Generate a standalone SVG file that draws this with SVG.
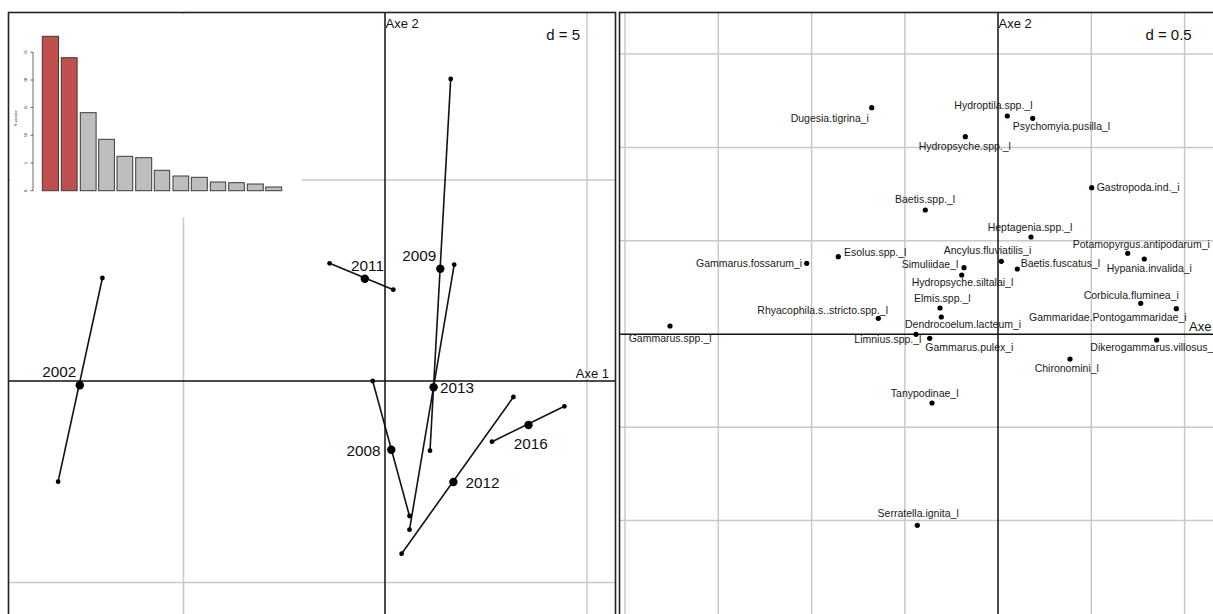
<svg xmlns="http://www.w3.org/2000/svg" width="1213" height="614" viewBox="0 0 1213 614">
<style>
text{font-family:"Liberation Sans",Arial,sans-serif;fill:#111}
.grid{stroke:#c8c8c8;stroke-width:1.5;fill:none}
.axis{stroke:#111;stroke-width:1.5;fill:none}
.frame{stroke:#222;stroke-width:1.6;fill:none}
.seg{stroke:#111;stroke-width:1.6;fill:none}
.big{fill:#000}
.sm{fill:#000}
.yr{font-size:15.3px}
.ax{font-size:13px}
.d{font-size:15px}
.lab{font-size:10.5px;fill:#1a1a1a}
.red{fill:#c0504d;stroke:#3a3a3a;stroke-width:1}
.gry{fill:#bebebe;stroke:#3a3a3a;stroke-width:1}
.tiny{font-size:3.2px}
</style>
<rect x="0" y="0" width="1213" height="614" fill="#fff"/>

<g id="left-panel">
  <g id="left-grid">
    <line class="grid" x1="183.5" y1="12" x2="183.5" y2="614"/>
    <line class="grid" x1="587" y1="12" x2="587" y2="614"/>
    <line class="grid" x1="8" y1="180" x2="615" y2="180"/>
    <line class="grid" x1="8" y1="582.5" x2="615" y2="582.5"/>
  </g>
  <g id="left-axes">
    <line class="axis" x1="385" y1="12" x2="385" y2="614"/>
    <line class="axis" x1="8" y1="381" x2="615" y2="381"/>
    <text class="ax" x="385.5" y="27.5">Axe 2</text>
    <text class="ax" x="609" y="377.5" text-anchor="end">Axe 1</text>
    <text class="d" x="580" y="39.5" text-anchor="end">d = 5</text>
  </g>

  <g id="inset-eigenvalues">
    <rect x="10" y="14" width="292" height="203.5" fill="#fff"/>
    <line x1="33" y1="52.3" x2="33" y2="190.7" stroke="#444" stroke-width="0.8"/>
    <g stroke="#444" stroke-width="0.8">
      <line x1="30.5" y1="52.3" x2="33" y2="52.3"/>
      <line x1="30.5" y1="80" x2="33" y2="80"/>
      <line x1="30.5" y1="107.5" x2="33" y2="107.5"/>
      <line x1="30.5" y1="135.3" x2="33" y2="135.3"/>
      <line x1="30.5" y1="163" x2="33" y2="163"/>
      <line x1="30.5" y1="190.7" x2="33" y2="190.7"/>
    </g>
    <g class="tiny">
      <text transform="translate(27,52.3) rotate(-90)" text-anchor="middle">25</text>
      <text transform="translate(27,80) rotate(-90)" text-anchor="middle">20</text>
      <text transform="translate(27,107.5) rotate(-90)" text-anchor="middle">15</text>
      <text transform="translate(27,135.3) rotate(-90)" text-anchor="middle">10</text>
      <text transform="translate(27,163) rotate(-90)" text-anchor="middle">5</text>
      <text transform="translate(27,190.7) rotate(-90)" text-anchor="middle">0</text>
      <text transform="translate(17,118) rotate(-90)" text-anchor="middle">% variance</text>
    </g>
    <rect class="red" x="42.3" y="36.3" width="16.2" height="154.4"/>
    <rect class="red" x="61.3" y="57.7" width="15.8" height="133"/>
    <rect class="gry" x="80.3" y="112.7" width="15.8" height="78"/>
    <rect class="gry" x="98.7" y="139.3" width="15.7" height="51.4"/>
    <rect class="gry" x="117" y="156.3" width="15.7" height="34.4"/>
    <rect class="gry" x="135.7" y="157.7" width="16" height="33"/>
    <rect class="gry" x="154.3" y="170.3" width="15.4" height="20.4"/>
    <rect class="gry" x="173" y="176" width="15.7" height="14.7"/>
    <rect class="gry" x="191.3" y="177.3" width="16" height="13.4"/>
    <rect class="gry" x="210.3" y="182" width="15.4" height="8.7"/>
    <rect class="gry" x="228.7" y="182.7" width="15.6" height="8"/>
    <rect class="gry" x="247.3" y="184" width="16" height="6.7"/>
    <rect class="gry" x="265.7" y="187" width="16" height="3.7"/>
  </g>

  <g id="connectors-left">
    <line class="seg" x1="102.4" y1="278" x2="58.1" y2="481.7"/>
    <line class="seg" x1="329.6" y1="263.3" x2="393.3" y2="289.7"/>
    <line class="seg" x1="450.7" y1="79" x2="430" y2="450.7"/>
    <line class="seg" x1="454.2" y1="264.7" x2="409.5" y2="529.7"/>
    <line class="seg" x1="372.7" y1="381" x2="409.5" y2="516"/>
    <line class="seg" x1="513.4" y1="397" x2="401.6" y2="553.7"/>
    <line class="seg" x1="564.4" y1="406.3" x2="492" y2="441.7"/>
  </g>

  <g id="node-2002">
    <circle class="sm" cx="102.4" cy="278" r="2.4"/>
    <circle class="sm" cx="58.1" cy="481.7" r="2.4"/>
    <circle class="big" cx="79.8" cy="385.3" r="4.2"/>
    <text class="yr" x="42.3" y="377">2002</text>
  </g>
  <g id="node-2011">
    <circle class="sm" cx="329.6" cy="263.3" r="2.4"/>
    <circle class="sm" cx="393.3" cy="289.7" r="2.4"/>
    <circle class="big" cx="364.8" cy="278.7" r="4.2"/>
    <text class="yr" x="351" y="270.5">2011</text>
  </g>
  <g id="node-2009">
    <circle class="sm" cx="450.7" cy="79" r="2.4"/>
    <circle class="sm" cx="430" cy="450.7" r="2.4"/>
    <circle class="big" cx="440.3" cy="268.7" r="4.2"/>
    <text class="yr" x="402.3" y="261">2009</text>
  </g>
  <g id="node-2013">
    <circle class="sm" cx="454.2" cy="264.7" r="2.4"/>
    <circle class="sm" cx="409.5" cy="529.7" r="2.4"/>
    <circle class="big" cx="433.6" cy="387.3" r="4.2"/>
    <text class="yr" x="440" y="392.5">2013</text>
  </g>
  <g id="node-2008">
    <circle class="sm" cx="372.7" cy="381" r="2.4"/>
    <circle class="sm" cx="409.5" cy="516" r="2.4"/>
    <circle class="big" cx="391.3" cy="449.7" r="4.2"/>
    <text class="yr" x="346.5" y="455.5">2008</text>
  </g>
  <g id="node-2012">
    <circle class="sm" cx="513.4" cy="397" r="2.4"/>
    <circle class="sm" cx="401.6" cy="553.7" r="2.4"/>
    <circle class="big" cx="453.4" cy="482" r="4.2"/>
    <text class="yr" x="465.6" y="487.5">2012</text>
  </g>
  <g id="node-2016">
    <circle class="sm" cx="564.4" cy="406.3" r="2.4"/>
    <circle class="sm" cx="492" cy="441.7" r="2.4"/>
    <circle class="big" cx="528.5" cy="425" r="4.2"/>
    <text class="yr" x="513.8" y="448.5">2016</text>
  </g>
  <rect class="frame" x="8.5" y="12.5" width="607" height="612"/>
</g>

<g id="right-panel">
  <g id="right-grid">
    <line class="grid" x1="625" y1="12" x2="625" y2="614"/>
    <line class="grid" x1="718.3" y1="12" x2="718.3" y2="614"/>
    <line class="grid" x1="811.6" y1="12" x2="811.6" y2="614"/>
    <line class="grid" x1="904.9" y1="12" x2="904.9" y2="614"/>
    <line class="grid" x1="1091.3" y1="12" x2="1091.3" y2="614"/>
    <line class="grid" x1="1184.6" y1="12" x2="1184.6" y2="614"/>
    <line class="grid" x1="620" y1="54.1" x2="1213" y2="54.1"/>
    <line class="grid" x1="620" y1="147.4" x2="1213" y2="147.4"/>
    <line class="grid" x1="620" y1="240.7" x2="1213" y2="240.7"/>
    <line class="grid" x1="620" y1="427.3" x2="1213" y2="427.3"/>
    <line class="grid" x1="620" y1="520.6" x2="1213" y2="520.6"/>
  </g>
  <g id="right-axes">
    <line class="axis" x1="998" y1="12" x2="998" y2="614"/>
    <line class="axis" x1="620" y1="334.3" x2="1213" y2="334.3"/>
    <text class="ax" x="998.5" y="27.5">Axe 2</text>
    <text class="ax" x="1189" y="331">Axe</text>
    <text class="d" x="1191.7" y="39.5" text-anchor="end">d = 0.5</text>
  </g>

  <g id="sp-dugesia"><circle class="sm" cx="871.7" cy="107.7" r="2.6"/><text class="lab" x="790.7" y="122">Dugesia.tigrina_i</text></g>
  <g id="sp-hydroptila"><circle class="sm" cx="1007.3" cy="116" r="2.6"/><text class="lab" x="954.3" y="109">Hydroptila.spp._l</text></g>
  <g id="sp-psychomyia"><circle class="sm" cx="1032.7" cy="118.3" r="2.6"/><text class="lab" x="1012.7" y="130">Psychomyia.pusilla_l</text></g>
  <g id="sp-hydropsyche"><circle class="sm" cx="965.3" cy="136.7" r="2.6"/><text class="lab" x="918.7" y="150">Hydropsyche.spp._l</text></g>
  <g id="sp-gastropoda"><circle class="sm" cx="1091.7" cy="187.7" r="2.6"/><text class="lab" x="1096.7" y="190.7">Gastropoda.ind._i</text></g>
  <g id="sp-baetis"><circle class="sm" cx="925.3" cy="210" r="2.6"/><text class="lab" x="895" y="202.7">Baetis.spp._l</text></g>
  <g id="sp-heptagenia"><circle class="sm" cx="1031" cy="237" r="2.6"/><text class="lab" x="987.7" y="230.7">Heptagenia.spp._l</text></g>
  <g id="sp-potamopyrgus"><circle class="sm" cx="1127.7" cy="253.3" r="2.6"/><text class="lab" x="1072.7" y="248.3">Potamopyrgus.antipodarum_i</text></g>
  <g id="sp-hypania"><circle class="sm" cx="1144.3" cy="259" r="2.6"/><text class="lab" x="1106.7" y="272.3">Hypania.invalida_i</text></g>
  <g id="sp-ancylus"><circle class="sm" cx="1001.3" cy="261.3" r="2.6"/><text class="lab" x="943.7" y="254">Ancylus.fluviatilis_i</text></g>
  <g id="sp-baetisfuscatus"><circle class="sm" cx="1017.3" cy="269" r="2.6"/><text class="lab" x="1020.7" y="266.7">Baetis.fuscatus_l</text></g>
  <g id="sp-esolus"><circle class="sm" cx="838.3" cy="256.7" r="2.6"/><text class="lab" x="844" y="256">Esolus.spp._l</text></g>
  <g id="sp-gfossarum"><circle class="sm" cx="806.7" cy="263.3" r="2.6"/><text class="lab" x="696" y="266.7">Gammarus.fossarum_i</text></g>
  <g id="sp-simuliidae"><circle class="sm" cx="964" cy="267.7" r="2.6"/><text class="lab" x="901.7" y="268.3">Simuliidae_l</text></g>
  <g id="sp-hsiltalai"><circle class="sm" cx="961.7" cy="275" r="2.6"/><text class="lab" x="911.7" y="285.7">Hydropsyche.siltalai_l</text></g>
  <g id="sp-corbicula"><circle class="sm" cx="1140.7" cy="303.3" r="2.6"/><text class="lab" x="1083.7" y="299">Corbicula.fluminea_i</text></g>
  <g id="sp-elmis"><circle class="sm" cx="940" cy="308" r="2.6"/><text class="lab" x="914" y="301.7">Elmis.spp._l</text></g>
  <g id="sp-gammaridae"><circle class="sm" cx="1176.3" cy="308.7" r="2.6"/><text class="lab" x="1029" y="320.7">Gammaridae.Pontogammaridae_i</text></g>
  <g id="sp-rhyacophila"><circle class="sm" cx="878.3" cy="318.3" r="2.6"/><text class="lab" x="757.3" y="314">Rhyacophila.s..stricto.spp._l</text></g>
  <g id="sp-dendrocoelum"><circle class="sm" cx="941.3" cy="317" r="2.6"/><text class="lab" x="905" y="328.3">Dendrocoelum.lacteum_i</text></g>
  <g id="sp-gspp"><circle class="sm" cx="670" cy="326" r="2.6"/><text class="lab" x="628.7" y="342">Gammarus.spp._l</text></g>
  <g id="sp-limnius"><circle class="sm" cx="916" cy="334.3" r="2.6"/><text class="lab" x="854.3" y="342.7">Limnius.spp._l</text></g>
  <g id="sp-gpulex"><circle class="sm" cx="929.7" cy="338.3" r="2.6"/><text class="lab" x="925.3" y="350.7">Gammarus.pulex_i</text></g>
  <g id="sp-dikerogammarus"><circle class="sm" cx="1156.7" cy="340" r="2.6"/><text class="lab" x="1090.3" y="350.7">Dikerogammarus.villosus_</text></g>
  <g id="sp-chironomini"><circle class="sm" cx="1070" cy="359" r="2.6"/><text class="lab" x="1034.7" y="371.7">Chironomini_l</text></g>
  <g id="sp-tanypodinae"><circle class="sm" cx="932" cy="403" r="2.6"/><text class="lab" x="890.8" y="397.3">Tanypodinae_l</text></g>
  <g id="sp-serratella"><circle class="sm" cx="917.3" cy="525.3" r="2.6"/><text class="lab" x="877.6" y="517.3">Serratella.ignita_l</text></g>
  <rect class="frame" x="619.5" y="12.5" width="620" height="612"/>
</g>
</svg>
